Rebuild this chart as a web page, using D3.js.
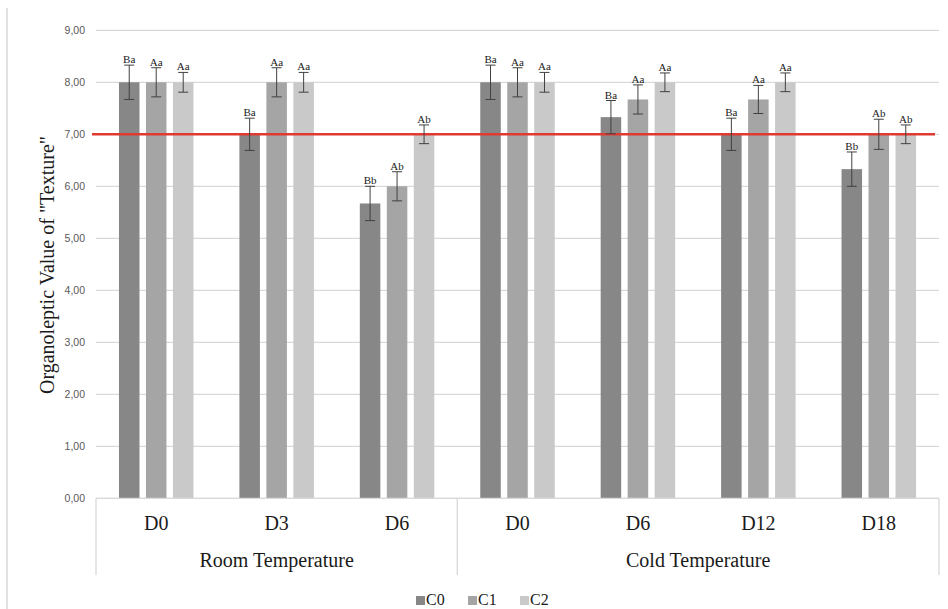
<html>
<head>
<title>Texture</title>
<script src="https://d3js.org/d3.v7.min.js"></script>
<style>
body { margin: 0; background: #fff; }
svg { display: block; }
text { font-family: 'Liberation Serif', 'Times New Roman', serif; fill: #1a1a1a; }
.ytick { font-family: 'Liberation Sans', Arial, sans-serif; font-size: 10.5px; fill: #595959; }
</style>
</head>
<body>
<svg width="948" height="609"></svg>
<script>

var categories = ["D0", "D3", "D6", "D0", "D6", "D12", "D18"];
var groups = ["Room Temperature", "Cold Temperature"];
var groupSizes = [3, 4];
var series = ["C0", "C1", "C2"];

var c0 = [8.00, 7.00, 5.67, 8.00, 7.33, 7.00, 6.33];
var c1 = [8.00, 8.00, 6.00, 8.00, 7.67, 7.67, 7.00];
var c2 = [8.00, 8.00, 7.00, 8.00, 8.00, 8.00, 7.00];

var err0 = [0.33, 0.31, 0.33, 0.33, 0.32, 0.31, 0.33];
var err1 = [0.28, 0.28, 0.28, 0.28, 0.28, 0.27, 0.29];
var err2 = [0.19, 0.19, 0.18, 0.19, 0.18, 0.18, 0.18];

var lab0 = ["Ba", "Ba", "Bb", "Ba", "Ba", "Ba", "Bb"];
var lab1 = ["Aa", "Aa", "Ab", "Aa", "Aa", "Aa", "Ab"];
var lab2 = ["Aa", "Aa", "Ab", "Aa", "Aa", "Aa", "Ab"];

var yTicks = [0, 1, 2, 3, 4, 5, 6, 7, 8, 9];
var threshold = 7;

var colors = ["#878787", "#a5a5a5", "#c9c9c9"];

var svg = d3.select("svg");

// careful: "top" is taken by window.top
var plotL = 96, plotR = 939, plotT = 30.3, plotB = 498.3;

var x = d3.scaleBand().domain(d3.range(categories.length)).range([plotL, plotR]).padding(0);
var inner = 74.5;
var x1 = d3.scaleBand().domain(series)
	.range([(x.bandwidth() - inner) / 2, (x.bandwidth() + inner) / 2])
	.paddingInner(0.24).paddingOuter(0);
var y = d3.scaleLinear().domain([0, 9]).range([plotB, plotT]);

// chart border (left edge only shows)
svg.append("line").attr("x1", 7).attr("x2", 7).attr("y1", 8).attr("y2", 609)
	.attr("stroke", "#d9d9d9").attr("stroke-width", 1.5);

// gridlines
svg.selectAll("line.grid").data(yTicks).enter().append("line")
	.attr("class", "grid")
	.attr("x1", plotL).attr("x2", plotR)
	.attr("y1", function(d) { return y(d); })
	.attr("y2", function(d) { return y(d); })
	.attr("stroke", "#d9d9d9").attr("stroke-width", 1.3);

// y tick labels
svg.selectAll("text.ytick").data(yTicks).enter().append("text")
	.attr("class", "ytick")
	.attr("x", 85).attr("y", function(d) { return y(d) + 3.5; })
	.attr("text-anchor", "end")
	.text(function(d) { return d3.format(".2f")(d).replace(".", ","); });

// bars
var vals = [c0, c1, c2], errs = [err0, err1, err2], labs = [lab0, lab1, lab2];
var rows = [];
series.forEach(function(s, si) {
	categories.forEach(function(c, ci) {
		rows.push({ s: s, si: si, ci: ci, v: vals[si][ci], e: errs[si][ci], l: labs[si][ci] });
	});
});

function cx(d) { return x(d.ci) + x1(d.s) + x1.bandwidth() / 2; }

svg.selectAll("rect.bar").data(rows).enter().append("rect")
	.attr("class", "bar")
	.attr("x", function(d) { return x(d.ci) + x1(d.s); })
	.attr("y", function(d) { return y(d.v); })
	.attr("width", x1.bandwidth())
	.attr("height", function(d) { return y(0) - y(d.v); })
	.attr("fill", function(d) { return colors[d.si]; });

// red reference line at 7
svg.append("line")
	.attr("x1", plotL - 4).attr("x2", plotR - 4)
	.attr("y1", y(threshold)).attr("y2", y(threshold))
	.attr("stroke", "#e03a32").attr("stroke-width", 2.5);

// error bars
var eb = svg.selectAll("g.err").data(rows).enter().append("g").attr("class", "err")
	.attr("stroke", "#404040").attr("stroke-width", 1);
eb.append("line")
	.attr("x1", cx).attr("x2", cx)
	.attr("y1", function(d) { return y(d.v + d.e); })
	.attr("y2", function(d) { return y(d.v - d.e); });
eb.append("line")
	.attr("x1", function(d) { return cx(d) - 5; }).attr("x2", function(d) { return cx(d) + 5; })
	.attr("y1", function(d) { return y(d.v + d.e); })
	.attr("y2", function(d) { return y(d.v + d.e); });
eb.append("line")
	.attr("x1", function(d) { return cx(d) - 5; }).attr("x2", function(d) { return cx(d) + 5; })
	.attr("y1", function(d) { return y(d.v - d.e); })
	.attr("y2", function(d) { return y(d.v - d.e); });

// letters
svg.selectAll("text.lab").data(rows).enter().append("text")
	.attr("class", "lab")
	.attr("x", cx)
	.attr("y", function(d) { return y(d.v + d.e) - 2; })
	.attr("text-anchor", "middle")
	.style("font-size", "11px")
	.text(function(d) { return d.l; });

// category axis
svg.append("line").attr("x1", plotL).attr("x2", plotR).attr("y1", plotB).attr("y2", plotB)
	.attr("stroke", "#d9d9d9").attr("stroke-width", 1.3);

var bounds = [0];
groupSizes.forEach(function(n, i) { bounds.push(bounds[i] + n); });
function bx(b) { return b < categories.length ? x(b) : plotR; }

svg.selectAll("line.sep").data(bounds).enter().append("line")
	.attr("class", "sep")
	.attr("x1", bx).attr("x2", bx)
	.attr("y1", plotB).attr("y2", 575)
	.attr("stroke", "#d9d9d9").attr("stroke-width", 1.3);

svg.selectAll("text.cat").data(categories).enter().append("text")
	.attr("class", "cat")
	.attr("x", function(d, i) { return x(i) + x.bandwidth() / 2; })
	.attr("y", 529.5)
	.attr("text-anchor", "middle")
	.style("font-size", "20px")
	.text(function(d) { return d; });

svg.selectAll("text.grp").data(groups).enter().append("text")
	.attr("class", "grp")
	.attr("x", function(d, i) { return (bx(bounds[i]) + bx(bounds[i + 1])) / 2; })
	.attr("y", 567)
	.attr("text-anchor", "middle")
	.style("font-size", "20px")
	.text(function(d) { return d; });

// y axis title
svg.append("text")
	.attr("transform", "translate(53.5,265) rotate(-90)")
	.attr("text-anchor", "middle")
	.style("font-size", "20px")
	.text('Organoleptic Value of "Texture"');

// legend
var lg = svg.selectAll("g.leg").data(series).enter().append("g").attr("class", "leg")
	.attr("transform", function(d, i) { return "translate(" + (416 + i * 52) + ",0)"; });
lg.append("rect").attr("x", 0).attr("y", 596).attr("width", 9).attr("height", 9)
	.attr("fill", function(d, i) { return colors[i]; });
lg.append("text").attr("x", 10).attr("y", 605)
	.style("font-size", "16px")
	.text(function(d) { return d; });

</script>
</body>
</html>
